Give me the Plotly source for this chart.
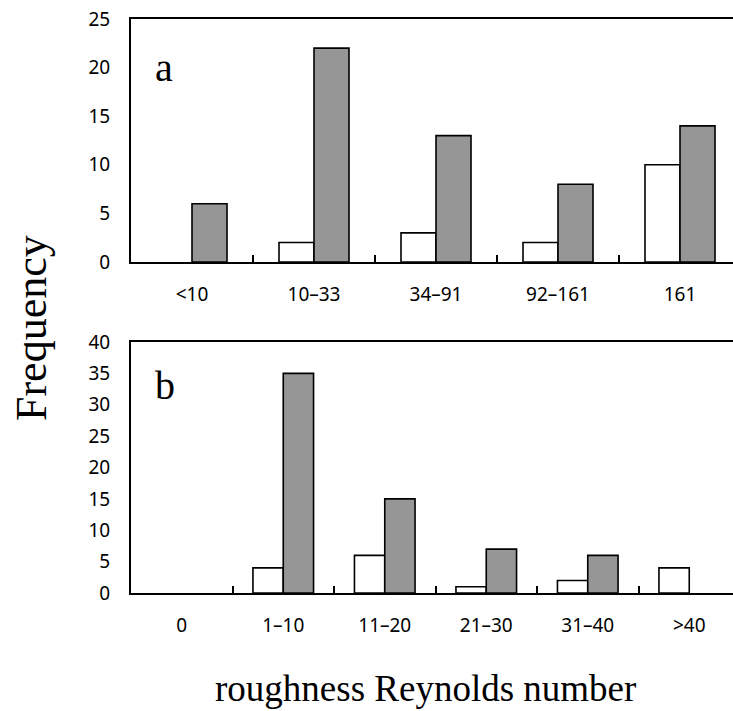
import plotly.graph_objects as go

# Panel a: roughness Reynolds number classes
cats_a = ["<10", "10–33", "34–91", "92–161", "161"]
white_a = [0, 2, 3, 2, 10]
gray_a = [6, 22, 13, 8, 14]

# Panel b
cats_b = ["0", "1–10", "11–20", "21–30", "31–40", ">40"]
white_b = [0, 4, 6, 1, 2, 4]
gray_b = [0, 35, 15, 7, 6, 0]

W, H = 733, 711
GRAY = "#969696"
TICK_FONT = dict(family="Noto Sans, DejaVu Sans, sans-serif", size=19, color="black")
SERIF = "Liberation Serif, Times New Roman, serif"


def outline(values):
    # empty classes get no outline so nothing is drawn on the axis
    return dict(color="black", width=[0 if v == 0 else 1.6 for v in values])


fig = go.Figure()

w_a = 35 / 122
w_b = 30.3 / 101.5

fig.add_trace(go.Bar(x=cats_a, y=white_a, width=w_a, offset=-w_a,
                     marker=dict(color="white", line=outline(white_a)),
                     xaxis="x", yaxis="y", showlegend=False))
fig.add_trace(go.Bar(x=cats_a, y=gray_a, width=w_a, offset=0,
                     marker=dict(color=GRAY, line=outline(gray_a)),
                     xaxis="x", yaxis="y", showlegend=False))
fig.add_trace(go.Bar(x=cats_b, y=white_b, width=w_b, offset=-w_b,
                     marker=dict(color="white", line=outline(white_b)),
                     xaxis="x2", yaxis="y2", showlegend=False))
fig.add_trace(go.Bar(x=cats_b, y=gray_b, width=w_b, offset=0,
                     marker=dict(color=GRAY, line=outline(gray_b)),
                     xaxis="x2", yaxis="y2", showlegend=False))

x0 = 131 / W
xdom = [x0, 1.0]
ydom_a = [1 - 262 / H, 1 - 19 / H]
ydom_b = [1 - 593 / H, 1 - 342 / H]

xcommon = dict(type="category", showline=True, linecolor="black", linewidth=2,
               mirror=True, ticks="inside", ticklen=7, tickwidth=2, tickcolor="black",
               tickson="boundaries", showgrid=False, zeroline=False,
               tickfont=TICK_FONT, automargin=False, ticklabelstandoff=14,
               fixedrange=True)
ycommon = dict(showline=True, linecolor="black", linewidth=2, ticks="",
               showgrid=False, zeroline=False, tickfont=TICK_FONT,
               automargin=False, ticklabelstandoff=15, fixedrange=True)

fig.update_layout(
    width=W, height=H,
    margin=dict(l=0, r=0, t=0, b=0),
    template="none",
    paper_bgcolor="white", plot_bgcolor="white",
    barmode="overlay",
    xaxis=dict(domain=xdom, anchor="y", range=[-0.5, -0.5 + 602 / 122], **xcommon),
    yaxis=dict(domain=ydom_a, anchor="x", range=[0, 25], dtick=5, **ycommon),
    xaxis2=dict(domain=xdom, anchor="y2", range=[-0.5, -0.5 + 602 / 101.5], **xcommon),
    yaxis2=dict(domain=ydom_b, anchor="x2", range=[0, 40], dtick=5, **ycommon),
    annotations=[
        dict(text="a", xref="paper", yref="paper", x=153 / W, y=1 - 68 / H,
             xanchor="left", yanchor="middle", showarrow=False,
             font=dict(family=SERIF, size=40, color="black")),
        dict(text="b", xref="paper", yref="paper", x=153 / W, y=1 - 386 / H,
             xanchor="left", yanchor="middle", showarrow=False,
             font=dict(family=SERIF, size=40, color="black")),
        dict(text="Frequency", xref="paper", yref="paper", x=31 / W, y=1 - 328 / H,
             xanchor="center", yanchor="middle", textangle=-90, showarrow=False,
             font=dict(family=SERIF, size=44, color="black")),
        dict(text="roughness Reynolds number", xref="paper", yref="paper",
             x=425 / W, y=1 - 688 / H, xanchor="center", yanchor="middle",
             showarrow=False, font=dict(family=SERIF, size=37, color="black")),
    ],
)

fig.write_html("out.html")
